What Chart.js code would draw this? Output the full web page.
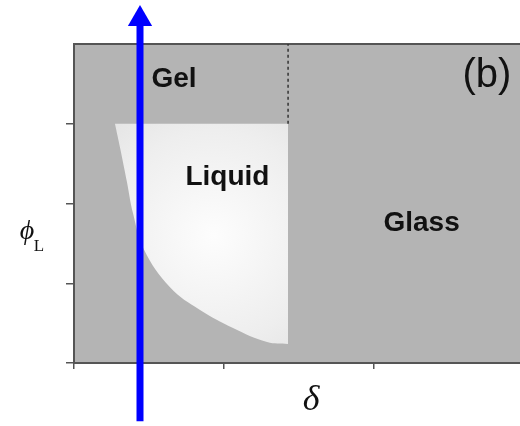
<!DOCTYPE html>
<html lang="en">
<head>
  <meta charset="UTF-8" />
  <title>Phase diagram (b)</title>
  <style>
    body { margin: 0; background: #fff; }
    canvas { display: block; }
  </style>
</head>
<body>
  <canvas id="phaseChart" width="520" height="426"></canvas>

  <script src="https://cdn.jsdelivr.net/npm/chart.js"></script>
  <script>
    // axis ranges and ticks (data units: delta along x, phi_L along y)
    const X_MIN = 0, X_MAX = 2.973;
    const Y_MIN = 0, Y_MAX = 4;
    const xTicks = [0, 1, 2];
    const yTicks = [0, 1, 2, 3];

    // lower boundary of the liquid pocket (filled up to phi_L = 3)
    const liquidX = [0.273, 0.307, 0.353, 0.393, 0.467, 0.64, 0.84, 1.06, 1.287, 1.427];
    const liquidY = [3.0, 2.70, 2.27, 1.88, 1.42, 0.95, 0.665, 0.44, 0.263, 0.238];
    const liquidTop = 3;

    // dashed gel / glass divider
    const dividerX = [1.427, 1.427];
    const dividerY = [3, 4];

    // blue path arrow
    const arrowX = [0.44, 0.44];
    const arrowY = [-0.73, 4.315];

    // region labels
    const labelText = ['Gel', 'Liquid', 'Glass'];
    const labelX = [0.667, 1.023, 2.317];
    const labelY = [3.558, 2.33, 1.757];
    const panelTag = '(b)';

    const pts = (xs, ys) => xs.map((x, i) => ({ x, y: ys[i] }));

    const backdrop = {
      id: 'backdrop',
      beforeDraw(chart) {
        const { ctx, chartArea: a } = chart;
        ctx.save();
        ctx.fillStyle = '#b4b4b4';
        ctx.fillRect(a.left, a.top, a.right - a.left, a.bottom - a.top);
        ctx.strokeStyle = '#555';
        ctx.lineWidth = 2;
        ctx.beginPath();
        ctx.moveTo(a.left, a.top);
        ctx.lineTo(a.right, a.top);
        ctx.stroke();
        ctx.restore();
      }
    };

    const texts = {
      id: 'texts',
      afterDatasetsDraw(chart) {
        const { ctx, scales: { x, y }, chartArea: a } = chart;
        ctx.save();
        ctx.fillStyle = '#111';
        ctx.textAlign = 'center';
        ctx.textBaseline = 'middle';
        ctx.font = 'bold 28px "Liberation Sans", Arial, sans-serif';
        labelText.forEach((t, i) => {
          ctx.fillText(t, x.getPixelForValue(labelX[i]), y.getPixelForValue(labelY[i]));
        });
        ctx.font = '40px "Liberation Sans", Arial, sans-serif';
        ctx.fillText(panelTag, x.getPixelForValue(2.753), y.getPixelForValue(3.596));

        // axis titles
        ctx.font = 'italic 28px "Liberation Serif", "DejaVu Serif", serif';
        ctx.fillText('\u03D5', 27, 232);
        ctx.font = '17px "Liberation Serif", "DejaVu Serif", serif';
        ctx.fillText('L', 39, 247);
        ctx.font = 'italic 36px "Liberation Serif", "DejaVu Serif", serif';
        ctx.fillText('\u03B4', (a.left + a.right) / 2 + 14, 401);
        ctx.restore();
      }
    };

    const liquidFill = (c) => {
      const chart = c.chart;
      if (!chart.chartArea) return '#ececec';
      const cx = chart.scales.x.getPixelForValue(0.93);
      const cy = chart.scales.y.getPixelForValue(1.6);
      const g = chart.ctx.createRadialGradient(cx, cy, 0, cx, cy, 175);
      g.addColorStop(0, '#fdfdfd');
      g.addColorStop(0.6, '#eeeeee');
      g.addColorStop(1, '#e0e0e0');
      return g;
    };

    const ctx = document.getElementById('phaseChart').getContext('2d');
    new Chart(ctx, {
      type: 'scatter',
      data: {
        datasets: [
          {
            label: 'path',
            data: pts(arrowX, arrowY),
            showLine: true,
            borderColor: '#0000ff',
            borderWidth: 7,
            pointRadius: [0, 14],
            pointStyle: 'triangle',
            pointBackgroundColor: '#0000ff',
            // wide transparent border keeps the head from being culled above the plot area
            pointBorderWidth: 14,
            pointBorderColor: 'rgba(0,0,0,0)',
            clip: false
          },
          {
            label: 'divider',
            data: pts(dividerX, dividerY),
            showLine: true,
            borderColor: '#333',
            borderWidth: 1.5,
            borderDash: [3, 3],
            pointRadius: 0
          },
          {
            label: 'liquid',
            data: pts(liquidX, liquidY),
            showLine: true,
            tension: 0.4,
            borderWidth: 0,
            borderColor: 'rgba(0,0,0,0)',
            backgroundColor: liquidFill,
            fill: { value: liquidTop },
            pointRadius: 0
          }
        ]
      },
      options: {
        responsive: false,
        animation: false,
        devicePixelRatio: 1,
        layout: { autoPadding: false, padding: { top: 44, right: 0, left: 0, bottom: 0 } },
        plugins: {
          legend: { display: false },
          tooltip: { enabled: false }
        },
        scales: {
          x: {
            type: 'linear',
            min: X_MIN,
            max: X_MAX,
            afterBuildTicks: s => { s.ticks = xTicks.map(v => ({ value: v })); },
            afterFit: s => { s.height = 63; },
            ticks: { display: false },
            grid: { drawOnChartArea: false, drawTicks: true, tickLength: 6, color: '#555', lineWidth: 1.5 },
            border: { color: '#555', width: 2 }
          },
          y: {
            type: 'linear',
            min: Y_MIN,
            max: Y_MAX,
            afterBuildTicks: s => { s.ticks = yTicks.map(v => ({ value: v })); },
            afterFit: s => { s.width = 74; },
            ticks: { display: false },
            grid: { drawOnChartArea: false, drawTicks: true, tickLength: 8, color: '#555', lineWidth: 1.5 },
            border: { color: '#555', width: 2 }
          }
        }
      },
      plugins: [backdrop, texts]
    });
  </script>
</body>
</html>
